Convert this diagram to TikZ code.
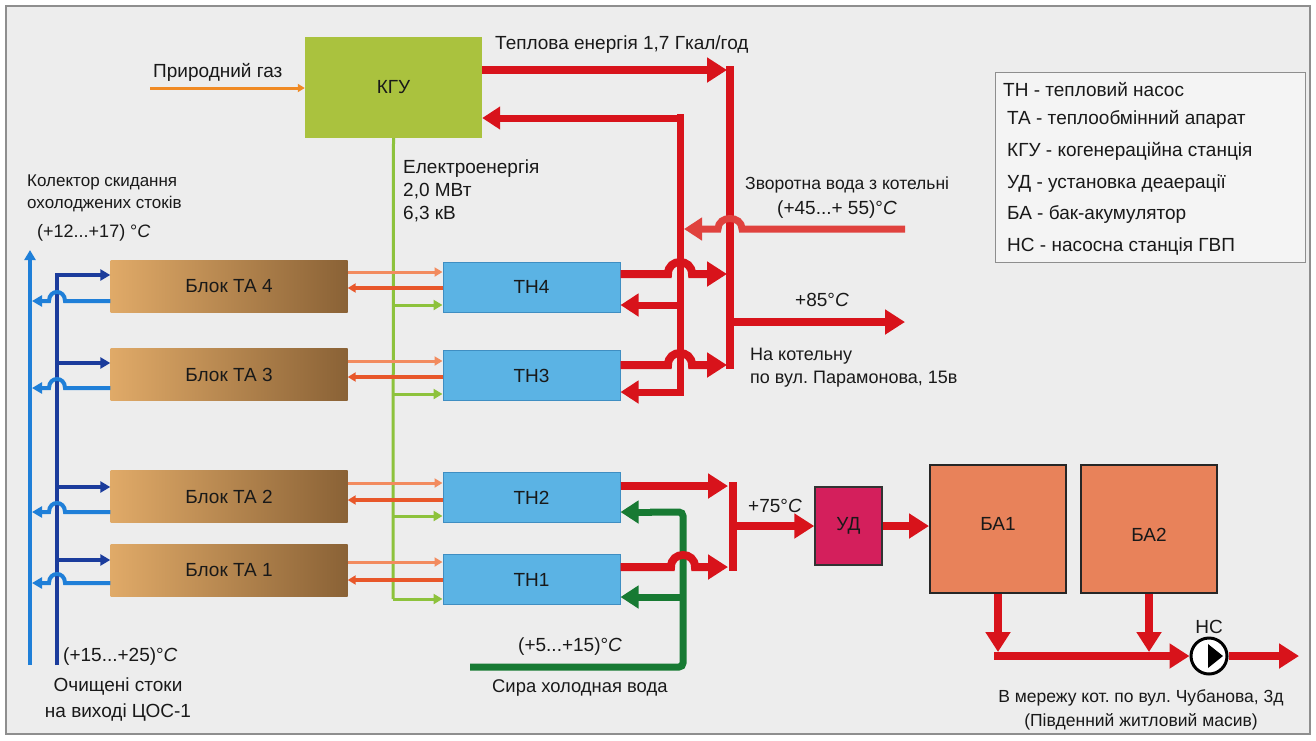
\documentclass[tikz,border=0pt]{standalone}
\usepackage{fontspec}
\setmainfont{Liberation Sans}
\usetikzlibrary{arrows.meta}
\frenchspacing
\definecolor{bgc}{HTML}{EDEDED}
\definecolor{framec}{HTML}{8E8E8E}
\definecolor{kguc}{HTML}{AAC23E}
\definecolor{thc}{HTML}{5BB3E4}
\definecolor{thb}{HTML}{3F8EC2}
\definecolor{taL}{HTML}{E0AA68}
\definecolor{taR}{HTML}{8A6236}
\definecolor{udc}{HTML}{D41F5C}
\definecolor{bac}{HTML}{E8825A}
\definecolor{piper}{HTML}{D8131B}
\definecolor{retr}{HTML}{E0423E}
\definecolor{dblue}{HTML}{1B3C9C}
\definecolor{lblue}{HTML}{1F7FD8}
\definecolor{elg}{HTML}{8DC23C}
\definecolor{coldg}{HTML}{177A33}
\definecolor{orl}{HTML}{F28B5E}
\definecolor{orr}{HTML}{E8572A}
\definecolor{gasc}{HTML}{F08A24}
\newcommand\fsz[2]{\fontsize{#1}{#2}\selectfont\frenchspacing}
\tikzset{
  txt/.style={font=\fsz{19}{23}, inner sep=0pt, text=black!90},
  boxlbl/.style={font=\fsz{19}{23}, text=black!90, inner sep=0pt},
  kgubox/.style={boxlbl, fill=kguc, minimum width=177, minimum height=101},
  thbox/.style={boxlbl, fill=thc, draw=thb, line width=1pt, minimum width=177, minimum height=50},
  tabox/.style={boxlbl, left color=taL, right color=taR, minimum width=237, minimum height=52},
  udbox/.style={boxlbl, fill=udc, draw=black!80, line width=1.5pt, minimum width=67, minimum height=78},
  babox/.style={boxlbl, fill=bac, draw=black!85, line width=2pt, minimum width=136, minimum height=128},
  pipe/.style={draw=piper, line width=8pt},
  pipearr/.style={pipe, -{Triangle[length=20pt,width=24pt]}},
  retpipe/.style={draw=retr, line width=7pt, -{Triangle[length=18pt,width=22pt]}},
  coldpipe/.style={draw=coldg, line width=7pt},
  coldarr/.style={coldpipe, -{Triangle[length=18pt,width=22pt]}},
  thinor/.style={draw=orl, line width=3pt, -{Triangle[length=8pt,width=9pt]}},
  thinrr/.style={draw=orr, line width=3.5pt, -{Triangle[length=8pt,width=9pt]}},
  elline/.style={draw=elg, line width=3pt},
  elarr/.style={elline, -{Triangle[length=9pt,width=10pt]}},
  dbl/.style={draw=dblue, line width=4pt},
  dblarr/.style={dbl, -{Triangle[length=10pt,width=11pt]}},
  lbl/.style={draw=lblue, line width=4pt},
  lblarr/.style={lbl, -{Triangle[length=10pt,width=11pt]}},
}
\begin{document}
\begin{tikzpicture}[x=1pt,y=-1pt]
\useasboundingbox (0,0) rectangle (1316,740);
\fill[white] (0,0) rectangle (1316,740);
\draw[fill=bgc, draw=framec, line width=2pt] (6,6) rectangle (1310,734);

% boxes
\node[kgubox] (kgu) at (393.5,87.5) {КГУ};
\node[thbox] (th4) at (531.5,287) {ТН4};
\node[thbox] (th3) at (531.5,375.5) {ТН3};
\node[thbox] (th2) at (531.5,497.5) {ТН2};
\node[thbox] (th1) at (531.5,579.5) {ТН1};
\node[tabox] (ta4) at (229,286.5) {Блок ТА 4};
\node[tabox] (ta3) at (229,374.5) {Блок ТА 3};
\node[tabox] (ta2) at (229,496.5) {Блок ТА 2};
\node[tabox] (ta1) at (229,570.5) {Блок ТА 1};
\node[udbox] (ud) at (848.5,526) {УД};
\node[babox] (ba1) at (998,529) {};
\node[txt] at (998,524) {БА1};
\node[babox] (ba2) at (1149,529) {};
\node[txt] at (1149,535) {БА2};

% legend
\draw[draw=framec, line width=1pt, fill=bgc!60!white] (995,72) rectangle (1305,262);
\node[txt, anchor=west] (lg1) at (1003,90) {ТН - тепловий насос};
\node[txt, anchor=west] (lg2) at (1007,119) {ТА - теплообмінний апарат};
\node[txt, anchor=west] (lg3) at (1007,151) {КГУ - когенераційна станція};
\node[txt, anchor=west] (lg4) at (1007,184) {УД - установка деаерації};
\node[txt, anchor=west] (lg5) at (1007,214) {БА - бак-акумулятор};
\node[txt, anchor=west] (lg6) at (1007,246) {НС - насосна станція ГВП};

% gas
\coordinate (gas0) at (150,88);
\draw[draw=gasc, line width=3pt, -{Triangle[length=7pt,width=8pt]}] (gas0) -- (kgu.west |- gas0);
\node[txt, anchor=west] (gas) at (153,72) {Природний газ};

% heat from KGU
\node[txt, anchor=west] (heat) at (495,45) {Теплова енергія 1,7 Гкал/год};
\draw[pipearr] (kgu.east |- 0,70) -- (727,70);
\draw[pipe] (730,66) -- (730,369);
\draw[pipearr] (726,322) -- (905,322);
\node[txt, anchor=west] (t85) at (795,300) {+85°\textit{C}};
\node[txt, anchor=north west, align=left, font=\fsz{18}{23}] (kot) at (750,348) {На котельну\\по вул. Парамонова, 15в};

% return water
\draw[retpipe] (905,229) -- (742,229) .. controls (742,215) and (718,215) .. (718,229) -- (684,229);
\node[txt, anchor=west, font=\fsz{17.5}{22}] (zv) at (745,185) {Зворотна вода з котельні};
\node[txt, anchor=west] (zvt) at (777,210) {(+45...+ 55)°\textit{C}};

% return loop to KGU and TH
\draw[draw=piper, line width=7pt] (680,114) -- (680,396);
\draw[draw=piper, line width=7pt, -{Triangle[length=18pt,width=22pt]}] (683.5,118) -- (kgu.east |- 0,118);
\draw[draw=piper, line width=7pt, -{Triangle[length=18pt,width=22pt]}] (680,305) -- (th4.east |- 0,305);
\draw[draw=piper, line width=7pt, -{Triangle[length=18pt,width=22pt]}] (683.5,392) -- (th3.east |- 0,392);

% TH4/TH3 outputs
\draw[pipearr] (th4.east |- 0,274) -- (668,274) .. controls (668,258) and (692,258) .. (692,274) -- (727,274);
\draw[pipearr] (th3.east |- 0,365) -- (668,365) .. controls (668,349) and (692,349) .. (692,365) -- (727,365);

% TH2/TH1 outputs
\draw[pipearr] (th2.east |- 0,486) -- (728,486);
\draw[pipe] (733,482) -- (733,571);
\draw[pipearr] (729,526) -- (ud.west);
\node[txt, anchor=west] (t75) at (748,506) {+75°\textit{C}};

% cold water
\draw[coldpipe, rounded corners=4pt] (470,667) -- (683,667) -- (683,512) -- (650,512);
\draw[coldarr] (652,512) -- (th2.east |- 0,512);
\draw[coldarr] (683,597) -- (th1.east |- 0,597);
\draw[pipearr] (th1.east |- 0,567) -- (671,567) .. controls (671,551) and (695,551) .. (695,567) -- (728,567);
\node[txt, anchor=west] (t515) at (518,647) {(+5...+15)°\textit{C}};
\node[txt, anchor=west, font=\fsz{18.4}{23}] (cold) at (492,688) {Сира холодная вода};

% UD -> BA1 -> NS
\draw[pipearr] (ud.east) -- (ba1.west |- ud.east);
\draw[pipearr] (ba1.south) -- (998,652);
\draw[pipearr] (ba2.south) -- (1149,652);
\node[circle, draw=black, line width=3pt, fill=white, minimum size=36, inner sep=0pt] (ns) at (1209,656) {};
\draw[pipearr] (994,656) -- (ns.west);
\fill[black] (1208,644) -- (1223,656) -- (1208,668) -- cycle;
\draw[pipearr] (ns.east) -- (1299,656);
\node[txt] (nsl) at (1209,627) {НС};
\node[txt, align=center, font=\fsz{17.5}{24}] (mer) at (1141,710) {В мережу кот. по вул. Чубанова, 3д\\(Південний житловий масив)};

% electricity
\draw[elline] (kgu.south) -- (393,599);
\node[txt, anchor=north west, align=left] (el) at (403,160) {Електроенергія\\2,0 МВт\\6,3 кВ};

% TA <-> TH thin lines
\foreach \ta/\th/\ya/\yb/\yc in {ta4/th4/272/288/305, ta3/th3/361/377/394, ta2/th2/483/500/516, ta1/th1/562/580/599}{
  \draw[thinor] (\ta.east |- 0,\ya) -- (\th.west |- 0,\ya);
  \draw[thinrr] (\th.west |- 0,\yb) -- (\ta.east |- 0,\yb);
  \draw[elarr] (393,\yc) -- (\th.west |- 0,\yc);
}

% blue collectors
\draw[lblarr] (30,665) -- (30,250);
\draw[dbl] (57,665) -- (57,273);
\foreach \ta/\yd/\yl in {ta4/275/301, ta3/363/388, ta2/487/512, ta1/560/583}{
  \draw[dblarr] (55,\yd) -- (\ta.west |- 0,\yd);
  \draw[lblarr] (\ta.west |- 0,\yl) -- (65,\yl) .. controls (65,\yl-12) and (49,\yl-12) .. (49,\yl) -- (32,\yl);
}
\node[txt, anchor=north west, align=left, font=\fsz{17}{22}] (kol) at (27,175) {Колектор скидання\\охолоджених стоків};
\node[txt, anchor=west, font=\fsz{18}{22}] (t1217) at (37,233) {(+12...+17) °\textit{C}};
\node[txt, anchor=west] (t1525) at (63,657) {(+15...+25)°\textit{C}};
\node[txt, align=center, font=\fsz{19}{26}] (och) at (118,699) {Очищені стоки\\на виході ЦОС-1};
\end{tikzpicture}
\end{document}
